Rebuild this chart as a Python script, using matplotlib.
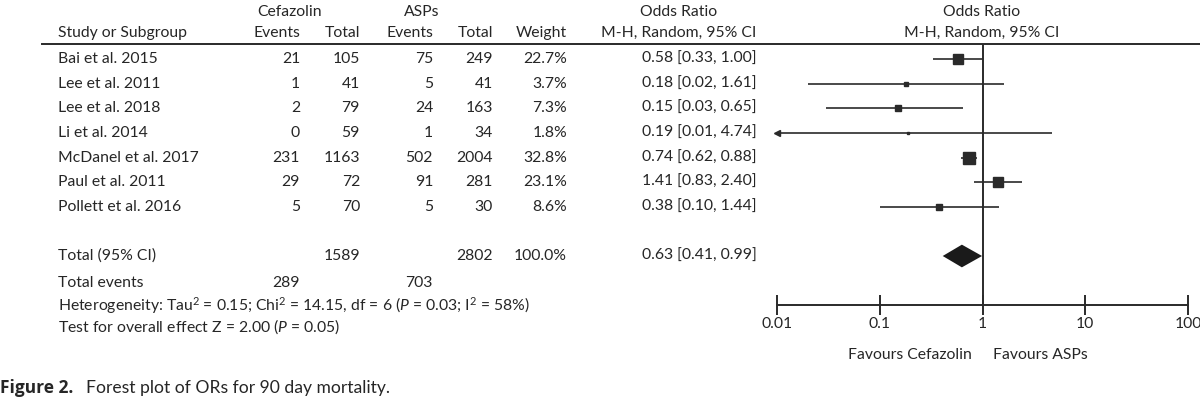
import matplotlib
matplotlib.use("Agg")
import matplotlib.pyplot as plt
from matplotlib.lines import Line2D
from matplotlib.transforms import blended_transform_factory

plt.rcParams["font.family"] = ["Lato", "DejaVu Sans"]
plt.rcParams["mathtext.fontset"] = "custom"
plt.rcParams["mathtext.rm"] = "Lato"
plt.rcParams["mathtext.it"] = "Lato:italic"

# data
studies = ["Bai et al. 2015", "Lee et al. 2011", "Lee et al. 2018", "Li et al. 2014",
           "McDanel et al. 2017", "Paul et al. 2011", "Pollett et al. 2016"]
cef_events = [21, 1, 2, 0, 231, 29, 5]
cef_total = [105, 41, 79, 59, 1163, 72, 70]
asp_events = [75, 5, 24, 1, 502, 91, 5]
asp_total = [249, 41, 163, 34, 2004, 281, 30]
weights = [22.7, 3.7, 7.3, 1.8, 32.8, 23.1, 8.6]
or_est = [0.58, 0.18, 0.15, 0.19, 0.74, 1.41, 0.38]
ci_lo = [0.33, 0.02, 0.03, 0.01, 0.62, 0.83, 0.10]
ci_hi = [1.00, 1.61, 0.65, 4.74, 0.88, 2.40, 1.44]

tot_or, tot_lo, tot_hi = 0.63, 0.41, 0.99
tot_cef_total, tot_asp_total = 1589, 2802
tot_cef_events, tot_asp_events = 289, 703
tot_weight = "100.0%"

ticks = [0.01, 0.1, 1, 10, 100]
tick_labels = ["0.01", "0.1", "1", "10", "100"]

TXT = "#262626"
LN = "#2a2a2a"
FS = 11.3

fig = plt.figure(figsize=(12, 3.99), dpi=100)
# rows: index units, row i sits at 59 + 24.65*i px from the top
step = 24.65
ax = fig.add_axes([777 / 1200, 0, (1188 - 777) / 1200, 1])
ax.set_xscale("log")
ax.set_xlim(0.01, 100)
ax.set_ylim((399 - 59) / step, -59 / step)
ax.patch.set_alpha(0)

row_hdr1 = (12 - 59) / step
row_hdr2 = (33 - 59) / step
row_rule = (44 - 59) / step
row_total = (256 - 59) / step
row_events = (283 - 59) / step
row_het = (306 - 59) / step
row_test = (327 - 59) / step
row_axis = (305 - 59) / step
row_fav = (355 - 59) / step
row_cap = (388 - 59) / step

tr = blended_transform_factory(fig.transFigure, ax.transData)


def px(x):
    return x / 1200


def t(x, y, s, ha="left", **kw):
    kw.setdefault("fontsize", FS)
    kw.setdefault("color", TXT)
    ax.text(px(x), y, s, ha=ha, va="center", transform=tr, clip_on=False, **kw)


# column positions (px, right edges)
c_study = 58
c_ce, c_ct, c_ae, c_at, c_w, c_or = 300, 360, 433, 493, 567, 757

# headers
t(290, row_hdr1, "Cefazolin", ha="center")
t(422, row_hdr1, "ASPs", ha="center")
t(679, row_hdr1, "Odds Ratio", ha="center")
t(679, row_hdr2, "M-H, Random, 95% CI", ha="center")
t(982, row_hdr1, "Odds Ratio", ha="center")
t(982, row_hdr2, "M-H, Random, 95% CI", ha="center")
t(c_study, row_hdr2, "Study or Subgroup")
t(c_ce, row_hdr2, "Events", ha="right")
t(c_ct, row_hdr2, "Total", ha="right")
t(c_ae, row_hdr2, "Events", ha="right")
t(c_at, row_hdr2, "Total", ha="right")
t(c_w, row_hdr2, "Weight", ha="right")

ax.add_line(Line2D([px(42), 1], [row_rule, row_rule], transform=tr,
                   color=LN, lw=1.4, clip_on=False))

# study rows
for i, name in enumerate(studies):
    t(c_study, i, name)
    t(c_ce, i, str(cef_events[i]), ha="right")
    t(c_ct, i, str(cef_total[i]), ha="right")
    t(c_ae, i, str(asp_events[i]), ha="right")
    t(c_at, i, str(asp_total[i]), ha="right")
    t(c_w, i, f"{weights[i]:.1f}%", ha="right")
    t(c_or, i, f"{or_est[i]:.2f} [{ci_lo[i]:.2f}, {ci_hi[i]:.2f}]", ha="right")

    lo = max(ci_lo[i], 0.01)
    ax.hlines(i, lo, ci_hi[i], color=LN, lw=1.2)
    ax.plot(or_est[i], i, marker="s", ms=1.5 * weights[i] ** 0.5,
            color=LN, mec=LN, lw=0)
    if ci_lo[i] <= 0.01:
        ax.plot(0.01, i, marker="<", ms=5, color=LN, clip_on=False)

# total row
t(c_study, row_total, "Total (95% CI)")
t(c_ct, row_total, str(tot_cef_total), ha="right")
t(c_at, row_total, str(tot_asp_total), ha="right")
t(c_w, row_total, tot_weight, ha="right")
t(c_or, row_total, f"{tot_or:.2f} [{tot_lo:.2f}, {tot_hi:.2f}]", ha="right")
dh = 0.46
ax.fill([tot_lo, tot_or, tot_hi, tot_or],
        [row_total, row_total - dh, row_total, row_total + dh],
        color="#1a1a1a", lw=0)

t(c_study, row_events, "Total events")
t(c_ce, row_events, str(tot_cef_events), ha="right")
t(c_ae, row_events, str(tot_asp_events), ha="right")
t(c_study, row_het,
  r"Heterogeneity: Tau$^2$ = 0.15; Chi$^2$ = 14.15, df = 6 ($\it{P}$ = 0.03; I$^2$ = 58%)")
t(c_study, row_test, r"Test for overall effect Z = 2.00 ($\it{P}$ = 0.05)")

# null line and axis
ax.vlines(1, row_rule, row_axis, color=LN, lw=1.4)
for s in ["top", "left", "right"]:
    ax.spines[s].set_visible(False)
ax.spines["bottom"].set_position(("data", row_axis))
ax.spines["bottom"].set_color(LN)
ax.spines["bottom"].set_linewidth(1.4)
ax.set_yticks([])
ax.set_xticks(ticks)
ax.set_xticklabels(tick_labels)
ax.minorticks_off()
ax.tick_params(axis="x", direction="inout", length=14, width=1.4, color=LN,
               labelsize=FS, labelcolor=TXT, pad=2)

t(972, row_fav, "Favours Cefazolin", ha="right")
t(993, row_fav, "Favours ASPs")

# caption
t(0, row_cap, "Figure 2.", fontsize=12.5, fontweight="bold",
  family=["Open Sans", "DejaVu Sans"])
t(86, row_cap, "Forest plot of ORs for 90 day mortality.", fontsize=12.6)

fig.savefig("out.png", dpi=100)
